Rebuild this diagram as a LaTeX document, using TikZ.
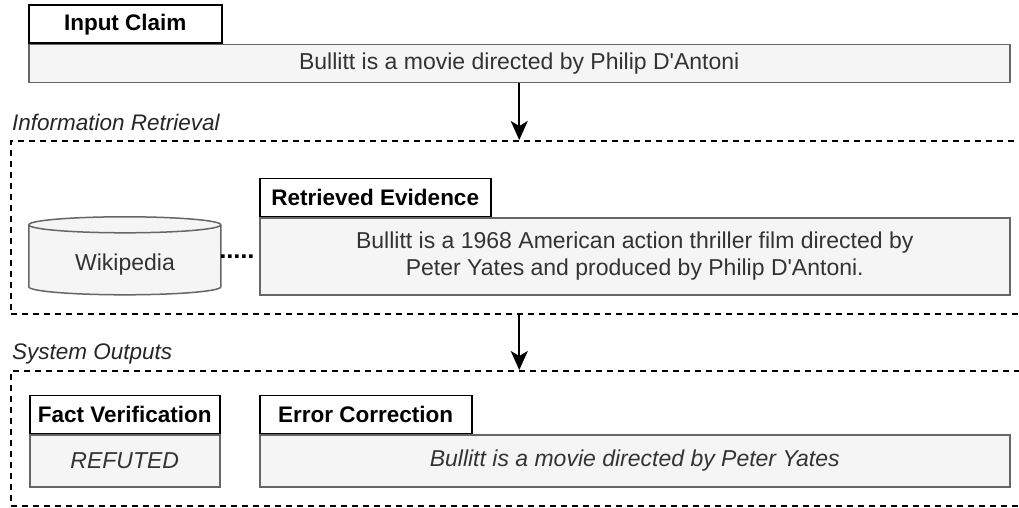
\documentclass[tikz,border=0pt]{standalone}
\usepackage{xcolor}
\usepackage{fontspec}
\setmainfont{Liberation Sans}
\usepackage{tikz}
\usetikzlibrary{arrows.meta,positioning,calc,backgrounds}
\definecolor{boxfill}{HTML}{F5F5F5}
\definecolor{boxline}{HTML}{666666}
\definecolor{boxtext}{HTML}{333333}
\tikzset{
  head/.style={draw=black, line width=1.5pt, fill=white, align=center, inner sep=2pt,
    font=\fontsize{22.5}{27}\selectfont\bfseries, minimum height=38pt},
  panel/.style={draw=boxline, line width=1.5pt, fill=boxfill, text=boxtext, align=center,
    inner sep=2pt, font=\fontsize{23}{27}\selectfont},
  group/.style={draw=black, line width=1.6pt, dash pattern=on 6pt off 5pt, inner sep=0pt},
  grouplabel/.style={font=\fontsize{22.5}{27}\selectfont\itshape, text=black!85, inner sep=0pt},
  dbshape/.style={draw=boxline, line width=1.5pt, fill=boxfill},
  link/.style={line width=3.5pt, dash pattern=on 3.5pt off 3.5pt, shorten >=3pt},
  arr/.style={-{Stealth[length=19pt,width=17pt,inset=5pt]}, line width=1.6pt}
}
\newcommand{\apos}{\textquotesingle}
\begin{document}
\begin{tikzpicture}[x=1pt,y=1pt]
\useasboundingbox (0,0) rectangle (1019,507);
% input claim
\node[head, minimum width=193pt, anchor=south west] (claimhd) at (28,463) {Input Claim};
\node[panel, minimum width=981pt, minimum height=38pt, anchor=north west] (claim) at (claimhd.south west) {Bullitt is a movie directed by Philip D\apos Antoni};
% retrieval stage
\node[group, minimum width=1020pt, minimum height=173pt, anchor=north west] (irbox) at (10,367) {};
\node[grouplabel, anchor=base west] (irlabel) at (12,377) {Information Retrieval};
\node[head, minimum width=231pt, anchor=south west] (evidhd) at (259,290) {Retrieved Evidence};
\node[panel, minimum width=750pt, minimum height=77pt, anchor=north west] (evid) at (evidhd.south west) {Bullitt is a 1968 American action thriller film directed by\\Peter Yates and produced by Philip D\apos Antoni.};
\node[minimum width=192pt, minimum height=78pt, inner sep=0pt] (wiki) at (125,251) {};
\node[text=boxtext, font=\fontsize{23}{27}\selectfont] (wikitext) at (125,242) {Wikipedia};
\begin{scope}[on background layer]
  \draw[dbshape] ($(wiki.north west)+(0,-8)$) -- ++(0,-62)
    arc[start angle=180, end angle=360, x radius=96pt, y radius=8pt] -- ++(0,62)
    arc[start angle=0, end angle=180, x radius=96pt, y radius=8pt] -- cycle;
  \draw[dbshape, fill=none] ($(wiki.north west)+(0,-8)$)
    arc[start angle=180, end angle=360, x radius=96pt, y radius=8pt];
\end{scope}
\draw[link] (wiki.east) -- (evid.west);
% outputs stage
\node[group, minimum width=1020pt, minimum height=135pt, anchor=north west] (sobox) at (10,137) {};
\node[grouplabel, anchor=base west] (solabel) at (12,148) {System Outputs};
\node[head, minimum width=190pt, anchor=south west] (facthd) at (29,73) {Fact Verification};
\node[panel, minimum width=190pt, minimum height=52pt, anchor=north west, font=\fontsize{23}{27}\selectfont\itshape] (fact) at (facthd.south west) {REFUTED};
\node[head, minimum width=212pt, anchor=south west] (corrhd) at (259,73) {Error Correction};
\node[panel, minimum width=750pt, minimum height=52pt, anchor=north west, font=\fontsize{23}{27}\selectfont\itshape] (corr) at (corrhd.south west) {Bullitt is a movie directed by Peter Yates};
\draw[arr] (claim.south) -- (claim.south |- irbox.north);
\draw[arr] (claim.south |- irbox.south) -- (claim.south |- sobox.north);
\end{tikzpicture}
\end{document}
